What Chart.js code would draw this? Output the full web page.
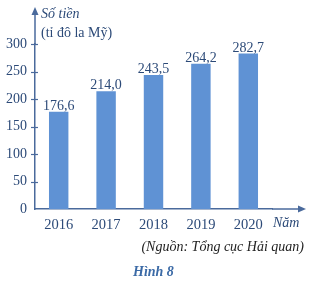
<!DOCTYPE html>
<html>
<head>
<meta charset="utf-8">
<script src="https://cdn.jsdelivr.net/npm/chart.js@4/dist/chart.umd.min.js"></script>
<style>
  html, body { margin: 0; padding: 0; background: #fff; }
  #wrap { width: 310px; height: 286px; }
</style>
</head>
<body>
<div id="wrap"><canvas id="grafico" width="310" height="286"></canvas></div>
<script>
const nam = ['2016', '2017', '2018', '2019', '2020'];
const soTien = [176.6, 214.0, 243.5, 264.2, 282.7];
const nhanGiaTri = ['176,6', '214,0', '243,5', '264,2', '282,7'];
const mocTruc = [0, 50, 100, 150, 200, 250, 300];

const mauTruc = '#4a6a9c';
const mauChu = '#2c4a78';
const serif = '"Liberation Serif", "DejaVu Serif", serif';

// vẽ mũi tên trục, vạch chia, chú thích, nhãn giá trị
const trangTri = {
    id: 'trangTri',
    afterDatasetsDraw(chart) {
        const { ctx, chartArea: a } = chart;
        const y = chart.scales.y;
        ctx.save();
        ctx.strokeStyle = mauTruc;
        ctx.fillStyle = mauTruc;
        ctx.lineWidth = 1.5;
        // trục đứng kéo dài + mũi tên
        ctx.beginPath();
        ctx.moveTo(a.left, a.top);
        ctx.lineTo(a.left, 12);
        ctx.stroke();
        ctx.beginPath();
        ctx.moveTo(a.left, 7);
        ctx.lineTo(a.left - 3.5, 15);
        ctx.lineTo(a.left + 3.5, 15);
        ctx.closePath();
        ctx.fill();
        // vạch chia cắt qua trục
        ctx.lineWidth = 1.2;
        mocTruc.slice(1).forEach(v => {
            const py = Math.round(y.getPixelForValue(v)) + 0.5;
            ctx.beginPath();
            ctx.moveTo(a.left - 4, py);
            ctx.lineTo(a.left + 3, py);
            ctx.stroke();
        });
        // trục ngang kéo dài + mũi tên
        ctx.lineWidth = 1.5;
        ctx.beginPath();
        ctx.moveTo(a.right, a.bottom);
        ctx.lineTo(301, a.bottom);
        ctx.stroke();
        ctx.beginPath();
        ctx.moveTo(306, a.bottom);
        ctx.lineTo(298, a.bottom - 3.5);
        ctx.lineTo(298, a.bottom + 3.5);
        ctx.closePath();
        ctx.fill();

        // nhãn giá trị trên cột
        const meta = chart.getDatasetMeta(0);
        ctx.fillStyle = mauChu;
        ctx.font = '14px ' + serif;
        ctx.textAlign = 'center';
        ctx.textBaseline = 'alphabetic';
        meta.data.forEach((bar, i) => {
            ctx.fillText(nhanGiaTri[i], bar.x, bar.y - 2);
        });

        // tiêu đề trục
        ctx.textAlign = 'left';
        ctx.textBaseline = 'middle';
        ctx.font = 'italic 14px ' + serif;
        ctx.fillText('Số tiền', 41, 14);
        ctx.font = '14px ' + serif;
        ctx.fillText('(tỉ đô la Mỹ)', 41, 33);
        ctx.font = 'italic 14px ' + serif;
        ctx.fillText('Năm', 273, 223);

        // nguồn
        ctx.fillStyle = '#222';
        ctx.textAlign = 'right';
        ctx.font = 'italic 14px ' + serif;
        ctx.fillText('(Nguồn: Tổng cục Hải quan)', 304, 247);

        // tên hình
        ctx.fillStyle = '#3b6aa6';
        ctx.textAlign = 'left';
        ctx.font = 'italic bold 14px ' + serif;
        ctx.fillText('Hình 8', 133, 272);
        ctx.restore();
    }
};

new Chart(document.getElementById('grafico'), {
    type: 'bar',
    data: {
        labels: nam,
        datasets: [{
            data: soTien,
            backgroundColor: '#5f92d4',
            barPercentage: 0.41,
            categoryPercentage: 1
        }]
    },
    options: {
        responsive: false,
        animation: false,
        layout: { padding: { top: 44, right: 38, left: 0, bottom: 0 } },
        plugins: { legend: { display: false }, tooltip: { enabled: false } },
        scales: {
            x: {
                grid: { display: false, drawTicks: false },
                border: { color: mauTruc, width: 1.5 },
                ticks: { color: mauChu, font: { family: serif, size: 14.5 }, padding: 7 },
                afterFit(s) { s.height = 77; }
            },
            y: {
                min: 0, max: 300,
                afterBuildTicks(s) { s.ticks = mocTruc.map(v => ({ value: v })); },
                grid: { display: false, drawTicks: false },
                border: { color: mauTruc, width: 1.5 },
                ticks: { color: mauChu, font: { family: serif, size: 14 }, padding: 8 },
                afterFit(s) { s.width = 35; }
            }
        }
    },
    plugins: [trangTri]
});
</script>
</body>
</html>
